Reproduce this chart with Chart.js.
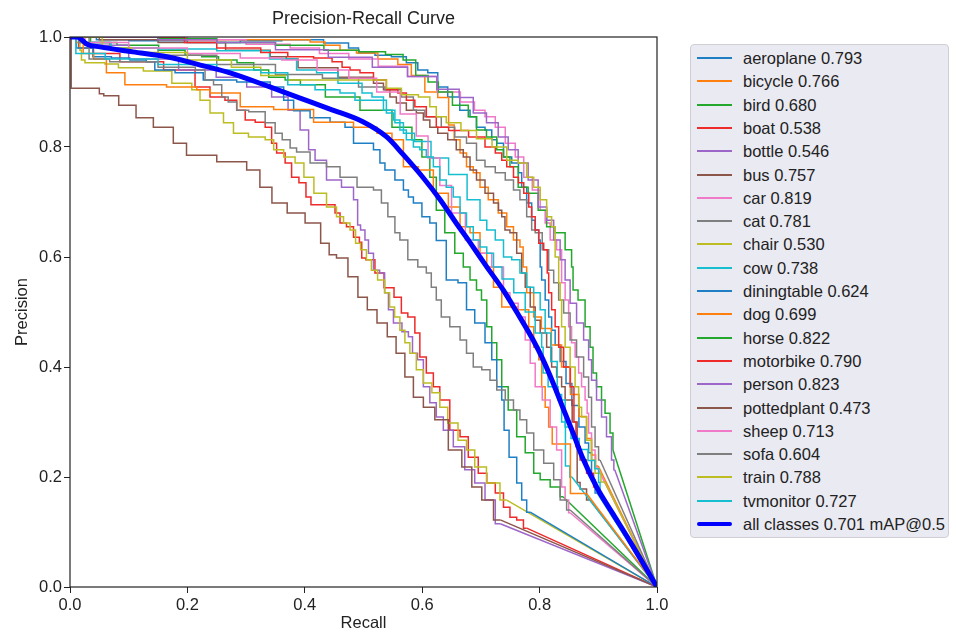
<!DOCTYPE html>
<html lang="en">
<head>
    <meta charset="UTF-8">
    <title>Precision-Recall Curve</title>
    <script src="https://cdn.jsdelivr.net/npm/chart.js@4.4.1/dist/chart.umd.min.js"></script>
    <style>
        body {
            margin: 0;
            background: #fff;
            font-family: "Liberation Sans", Arial, sans-serif;
        }
        #wrap {
            position: relative;
            width: 956px;
            height: 632px;
        }
        #legend {
            position: absolute;
            left: 690px;
            top: 44px;
            width: 259px;
            height: 494px;
            background: #eaeaf2;
            border: 1px solid #cfcfd4;
            border-radius: 4px;
            box-sizing: border-box;
        }
        .row {
            position: absolute;
            left: 0;
            height: 24px;
            line-height: 24px;
            font-size: 16.5px;
            color: #222;
            white-space: nowrap;
        }
        .swatch {
            position: absolute;
            left: 6px;
            width: 35px;
        }
        .txt {
            position: absolute;
            left: 52px;
        }
    </style>
</head>
<body>
<div id="wrap">
    <canvas id="prChart" width="956" height="632"></canvas>
    <div id="legend"></div>
</div>

<script>
// recall / precision pairs, one array per class
const aeroplane = [[0,1],[0.04,1],[0.05,0.995],[0.15,0.993],[0.25,0.99],[0.33,0.993],[0.392,0.995],[0.472,0.989],[0.477,0.98],[0.506,0.971],[0.533,0.967],[0.562,0.964],[0.584,0.953],[0.601,0.94],[0.618,0.935],[0.635,0.909],[0.652,0.891],[0.676,0.867],[0.687,0.855],[0.698,0.836],[0.716,0.831],[0.721,0.813],[0.733,0.807],[0.744,0.782],[0.761,0.771],[0.767,0.753],[0.772,0.727],[0.784,0.698],[0.789,0.667],[0.796,0.649],[0.801,0.631],[0.801,0.582],[0.806,0.558],[0.813,0.522],[0.818,0.491],[0.823,0.467],[0.83,0.44],[0.84,0.41],[0.85,0.37],[0.86,0.33],[0.874,0.291],[0.881,0.262],[0.886,0.244],[0.891,0.195],[0.898,0.171],[1,0]];
const bicycle = [[0,1],[0.1,1],[0.2,0.995],[0.3,0.995],[0.392,0.995],[0.426,0.991],[0.443,0.985],[0.477,0.976],[0.499,0.971],[0.55,0.96],[0.567,0.95],[0.596,0.93],[0.613,0.9],[0.64,0.89],[0.65,0.84],[0.659,0.813],[0.67,0.789],[0.681,0.764],[0.693,0.753],[0.704,0.727],[0.721,0.704],[0.738,0.68],[0.75,0.655],[0.761,0.631],[0.772,0.618],[0.772,0.582],[0.784,0.535],[0.796,0.491],[0.81,0.47],[0.83,0.44],[0.845,0.4],[0.86,0.35],[0.874,0.31],[0.886,0.27],[0.891,0.24],[0.9,0.22],[1,0]];
const bird = [[0,1],[0.03,1],[0.04,0.99],[0.12,0.985],[0.182,0.976],[0.21,0.967],[0.239,0.964],[0.267,0.958],[0.302,0.953],[0.324,0.94],[0.353,0.927],[0.38,0.922],[0.405,0.913],[0.465,0.891],[0.523,0.867],[0.574,0.836],[0.591,0.813],[0.608,0.782],[0.618,0.745],[0.63,0.685],[0.647,0.644],[0.664,0.607],[0.676,0.582],[0.687,0.558],[0.698,0.54],[0.704,0.522],[0.716,0.473],[0.721,0.444],[0.733,0.413],[0.738,0.364],[0.755,0.322],[0.767,0.273],[0.784,0.244],[0.796,0.207],[0.806,0.195],[0.83,0.182],[0.84,0.164],[1,0]];
const boat = [[0,1],[0.03,0.98],[0.05,0.97],[0.12,0.955],[0.199,0.94],[0.227,0.909],[0.25,0.891],[0.278,0.885],[0.29,0.867],[0.307,0.849],[0.324,0.845],[0.341,0.836],[0.346,0.807],[0.358,0.789],[0.375,0.771],[0.38,0.745],[0.4,0.735],[0.404,0.709],[0.417,0.695],[0.448,0.695],[0.455,0.68],[0.465,0.662],[0.477,0.655],[0.489,0.636],[0.497,0.627],[0.497,0.598],[0.511,0.595],[0.528,0.571],[0.542,0.544],[0.562,0.527],[0.567,0.498],[0.584,0.491],[0.591,0.462],[0.601,0.418],[0.613,0.389],[0.625,0.364],[0.635,0.34],[0.659,0.285],[0.67,0.273],[0.687,0.236],[0.704,0.207],[0.716,0.189],[0.733,0.171],[0.744,0.145],[0.755,0.127],[0.767,0.122],[0.778,0.107],[1,0]];
const bottle = [[0,1],[0.05,0.985],[0.15,0.96],[0.22,0.94],[0.278,0.927],[0.324,0.909],[0.363,0.891],[0.38,0.867],[0.404,0.831],[0.409,0.795],[0.426,0.776],[0.448,0.74],[0.477,0.727],[0.489,0.704],[0.491,0.658],[0.499,0.649],[0.506,0.631],[0.511,0.607],[0.523,0.576],[0.532,0.571],[0.54,0.535],[0.545,0.504],[0.557,0.48],[0.574,0.464],[0.579,0.455],[0.588,0.425],[0.596,0.413],[0.608,0.364],[0.618,0.335],[0.63,0.309],[0.642,0.285],[0.664,0.255],[0.681,0.213],[0.698,0.189],[0.716,0.158],[0.733,0.115],[1,0]];
const bus = [[0,1],[0.1,0.995],[0.2,0.99],[0.33,0.976],[0.352,0.964],[0.385,0.96],[0.392,0.944],[0.448,0.944],[0.465,0.927],[0.506,0.927],[0.528,0.916],[0.54,0.904],[0.55,0.891],[0.562,0.88],[0.584,0.867],[0.596,0.862],[0.608,0.849],[0.618,0.836],[0.635,0.825],[0.652,0.813],[0.664,0.795],[0.676,0.782],[0.687,0.758],[0.698,0.74],[0.716,0.716],[0.727,0.698],[0.733,0.685],[0.738,0.673],[0.744,0.649],[0.755,0.644],[0.767,0.607],[0.772,0.571],[0.779,0.545],[0.789,0.509],[0.796,0.485],[0.806,0.462],[0.818,0.436],[0.823,0.4],[0.835,0.382],[0.84,0.364],[0.847,0.34],[0.864,0.3],[0.864,0.19],[0.874,0.178],[0.886,0.158],[1,0]];
const car = [[0,1],[0.15,1],[0.25,0.995],[0.35,0.987],[0.4,0.98],[0.45,0.97],[0.5,0.96],[0.55,0.947],[0.6,0.928],[0.65,0.9],[0.68,0.882],[0.698,0.867],[0.716,0.855],[0.733,0.836],[0.75,0.807],[0.767,0.782],[0.779,0.745],[0.796,0.722],[0.806,0.685],[0.813,0.662],[0.823,0.631],[0.835,0.613],[0.84,0.553],[0.847,0.522],[0.852,0.473],[0.857,0.444],[0.864,0.418],[0.869,0.389],[0.874,0.364],[0.881,0.34],[0.881,0.316],[0.886,0.28],[0.891,0.249],[0.898,0.218],[1,0]];
const cat = [[0,1],[0.03,1],[0.035,0.99],[0.1,0.98],[0.2,0.967],[0.3,0.95],[0.4,0.932],[0.46,0.925],[0.523,0.909],[0.55,0.904],[0.579,0.891],[0.591,0.867],[0.618,0.855],[0.647,0.836],[0.664,0.818],[0.687,0.807],[0.698,0.776],[0.716,0.764],[0.733,0.753],[0.75,0.74],[0.761,0.722],[0.772,0.704],[0.784,0.673],[0.789,0.649],[0.796,0.644],[0.813,0.613],[0.818,0.576],[0.83,0.553],[0.835,0.522],[0.847,0.498],[0.857,0.449],[0.869,0.418],[0.881,0.382],[0.886,0.345],[0.891,0.291],[0.898,0.255],[0.903,0.231],[1,0]];
const chair = [[0,1],[0.017,1],[0.017,0.976],[0.022,0.958],[0.029,0.953],[0.056,0.953],[0.063,0.951],[0.102,0.944],[0.148,0.938],[0.199,0.916],[0.216,0.904],[0.227,0.885],[0.25,0.862],[0.273,0.844],[0.284,0.825],[0.324,0.818],[0.341,0.813],[0.353,0.795],[0.375,0.782],[0.392,0.771],[0.405,0.745],[0.426,0.716],[0.448,0.691],[0.46,0.673],[0.472,0.662],[0.482,0.649],[0.491,0.625],[0.499,0.613],[0.511,0.595],[0.516,0.576],[0.532,0.558],[0.54,0.535],[0.549,0.509],[0.557,0.491],[0.567,0.467],[0.574,0.444],[0.584,0.425],[0.596,0.395],[0.608,0.371],[0.625,0.353],[0.635,0.327],[0.652,0.298],[0.67,0.267],[0.681,0.249],[0.698,0.218],[0.721,0.189],[0.744,0.158],[1,0]];
const cow = [[0,1],[0.04,0.99],[0.1,0.98],[0.2,0.978],[0.3,0.975],[0.38,0.96],[0.392,0.94],[0.448,0.935],[0.465,0.916],[0.489,0.916],[0.506,0.898],[0.523,0.891],[0.545,0.867],[0.562,0.844],[0.574,0.825],[0.6,0.81],[0.63,0.78],[0.66,0.75],[0.693,0.704],[0.704,0.667],[0.716,0.649],[0.733,0.631],[0.744,0.6],[0.761,0.595],[0.772,0.571],[0.784,0.545],[0.796,0.535],[0.806,0.504],[0.813,0.462],[0.825,0.41],[0.835,0.35],[0.84,0.3],[0.848,0.22],[0.855,0.2],[1,0]];
const diningtable = [[0,1],[0.022,0.98],[0.056,0.964],[0.085,0.962],[0.119,0.958],[0.141,0.955],[0.148,0.94],[0.21,0.935],[0.244,0.922],[0.324,0.918],[0.358,0.909],[0.37,0.885],[0.392,0.866],[0.426,0.853],[0.46,0.845],[0.477,0.836],[0.489,0.807],[0.506,0.807],[0.528,0.795],[0.528,0.771],[0.545,0.758],[0.562,0.74],[0.574,0.722],[0.579,0.709],[0.591,0.698],[0.608,0.673],[0.618,0.662],[0.63,0.63],[0.652,0.558],[0.67,0.553],[0.681,0.504],[0.698,0.48],[0.716,0.444],[0.721,0.413],[0.733,0.364],[0.738,0.34],[0.741,0.285],[0.755,0.236],[0.767,0.189],[0.772,0.158],[0.784,0.136],[1,0]];
const dog = [[0,1],[0.02,0.99],[0.025,0.97],[0.056,0.96],[0.068,0.935],[0.119,0.913],[0.21,0.909],[0.222,0.904],[0.256,0.898],[0.324,0.873],[0.37,0.868],[0.46,0.845],[0.506,0.836],[0.54,0.825],[0.557,0.813],[0.579,0.764],[0.608,0.758],[0.63,0.716],[0.659,0.691],[0.67,0.655],[0.693,0.644],[0.704,0.607],[0.716,0.582],[0.727,0.545],[0.744,0.509],[0.779,0.504],[0.784,0.473],[0.796,0.436],[0.801,0.413],[0.806,0.364],[0.813,0.327],[0.818,0.291],[0.825,0.26],[0.88,0.17],[1,0]];
const horse = [[0,1],[0.1,1],[0.2,0.997],[0.3,0.99],[0.4,0.985],[0.465,0.976],[0.52,0.973],[0.555,0.968],[0.58,0.958],[0.598,0.93],[0.622,0.918],[0.633,0.9],[0.67,0.876],[0.687,0.855],[0.698,0.831],[0.721,0.818],[0.733,0.795],[0.744,0.782],[0.755,0.764],[0.772,0.727],[0.789,0.716],[0.806,0.685],[0.818,0.655],[0.835,0.644],[0.852,0.613],[0.857,0.582],[0.857,0.54],[0.874,0.522],[0.881,0.473],[0.891,0.436],[0.891,0.389],[0.903,0.364],[0.908,0.34],[0.915,0.316],[0.925,0.28],[0.925,0.249],[1,0]];
const motorbike = [[0,1],[0.19,1],[0.2,0.99],[0.3,0.98],[0.35,0.972],[0.392,0.964],[0.438,0.962],[0.455,0.955],[0.472,0.945],[0.482,0.94],[0.506,0.935],[0.528,0.922],[0.55,0.904],[0.567,0.898],[0.579,0.885],[0.596,0.873],[0.618,0.855],[0.63,0.836],[0.66,0.83],[0.698,0.818],[0.716,0.8],[0.733,0.789],[0.738,0.776],[0.75,0.764],[0.761,0.745],[0.767,0.735],[0.779,0.716],[0.784,0.691],[0.789,0.673],[0.796,0.649],[0.801,0.625],[0.813,0.613],[0.813,0.571],[0.818,0.535],[0.823,0.504],[0.83,0.473],[0.835,0.436],[0.847,0.4],[0.857,0.364],[0.86,0.3],[0.864,0.255],[0.874,0.231],[0.886,0.207],[0.898,0.182],[1,0]];
const person = [[0,1],[0.1,1],[0.2,0.995],[0.3,0.99],[0.4,0.977],[0.48,0.963],[0.55,0.945],[0.6,0.928],[0.65,0.905],[0.676,0.89],[0.698,0.862],[0.721,0.844],[0.738,0.818],[0.755,0.795],[0.772,0.771],[0.789,0.74],[0.806,0.691],[0.818,0.667],[0.83,0.631],[0.84,0.595],[0.847,0.558],[0.857,0.516],[0.869,0.48],[0.881,0.449],[0.886,0.413],[0.891,0.376],[0.903,0.34],[0.908,0.309],[0.92,0.273],[0.925,0.231],[0.928,0.213],[1,0]];
const pottedplant = [[0,1],[0.004,0.907],[0.045,0.907],[0.055,0.897],[0.06,0.893],[0.106,0.876],[0.119,0.853],[0.165,0.836],[0.187,0.807],[0.21,0.785],[0.29,0.773],[0.312,0.758],[0.335,0.727],[0.353,0.698],[0.387,0.68],[0.414,0.662],[0.44,0.625],[0.443,0.604],[0.465,0.598],[0.482,0.564],[0.499,0.527],[0.514,0.504],[0.532,0.48],[0.549,0.455],[0.562,0.425],[0.579,0.382],[0.591,0.345],[0.613,0.327],[0.63,0.304],[0.659,0.249],[0.676,0.218],[0.693,0.182],[0.71,0.158],[0.733,0.122],[1,0]];
const sheep = [[0,1],[0.05,0.99],[0.15,0.98],[0.25,0.97],[0.33,0.962],[0.392,0.958],[0.45,0.94],[0.5,0.925],[0.545,0.9],[0.58,0.86],[0.6,0.82],[0.62,0.78],[0.64,0.73],[0.66,0.68],[0.687,0.631],[0.704,0.607],[0.733,0.582],[0.744,0.535],[0.755,0.516],[0.772,0.491],[0.779,0.449],[0.789,0.407],[0.796,0.364],[0.813,0.34],[0.823,0.291],[0.835,0.249],[0.84,0.182],[0.847,0.158],[0.852,0.135],[1,0]];
const sofa = [[0,1],[0.03,0.99],[0.035,0.96],[0.1,0.955],[0.2,0.945],[0.227,0.94],[0.233,0.922],[0.256,0.913],[0.261,0.891],[0.278,0.882],[0.29,0.867],[0.319,0.864],[0.346,0.844],[0.353,0.825],[0.37,0.813],[0.38,0.798],[0.392,0.791],[0.426,0.771],[0.448,0.764],[0.472,0.745],[0.506,0.727],[0.528,0.722],[0.533,0.698],[0.55,0.673],[0.557,0.644],[0.567,0.631],[0.584,0.595],[0.601,0.582],[0.613,0.571],[0.618,0.545],[0.63,0.522],[0.635,0.491],[0.659,0.473],[0.67,0.449],[0.681,0.425],[0.693,0.4],[0.71,0.395],[0.721,0.376],[0.733,0.358],[0.75,0.34],[0.761,0.322],[0.772,0.304],[0.784,0.28],[0.796,0.249],[0.818,0.225],[0.83,0.195],[0.84,0.158],[0.852,0.14],[1,0]];
const train = [[0,1],[0.05,1],[0.06,0.98],[0.15,0.972],[0.25,0.958],[0.3,0.945],[0.35,0.93],[0.392,0.922],[0.528,0.922],[0.55,0.907],[0.579,0.895],[0.608,0.891],[0.618,0.873],[0.63,0.855],[0.652,0.844],[0.68,0.83],[0.705,0.815],[0.733,0.8],[0.755,0.776],[0.772,0.771],[0.784,0.745],[0.796,0.727],[0.806,0.704],[0.818,0.673],[0.823,0.655],[0.83,0.6],[0.835,0.553],[0.835,0.522],[0.84,0.473],[0.847,0.436],[0.857,0.4],[0.864,0.364],[0.869,0.327],[0.874,0.309],[0.886,0.267],[0.891,0.231],[0.898,0.207],[0.911,0.191],[1,0]];
const tvmonitor = [[0,1],[0.02,0.97],[0.1,0.96],[0.2,0.95],[0.3,0.94],[0.35,0.935],[0.392,0.913],[0.443,0.904],[0.477,0.898],[0.494,0.885],[0.533,0.885],[0.545,0.862],[0.557,0.849],[0.567,0.831],[0.579,0.813],[0.591,0.8],[0.601,0.795],[0.613,0.782],[0.625,0.764],[0.635,0.74],[0.647,0.727],[0.659,0.709],[0.67,0.68],[0.681,0.655],[0.693,0.631],[0.704,0.618],[0.716,0.607],[0.727,0.582],[0.745,0.56],[0.767,0.535],[0.784,0.5],[0.801,0.462],[0.806,0.436],[0.806,0.389],[0.823,0.364],[0.84,0.34],[0.847,0.291],[0.86,0.27],[0.875,0.25],[0.89,0.23],[0.898,0.215],[0.903,0.19],[0.903,0.164],[1,0]];
const allClasses = [[0,1],[0.012,1],[0.029,0.987],[0.051,0.982],[0.107,0.973],[0.165,0.964],[0.222,0.949],[0.278,0.933],[0.336,0.911],[0.392,0.889],[0.443,0.869],[0.499,0.846],[0.54,0.818],[0.567,0.787],[0.601,0.745],[0.63,0.705],[0.659,0.66],[0.681,0.627],[0.71,0.582],[0.738,0.54],[0.761,0.5],[0.789,0.449],[0.806,0.413],[0.823,0.371],[0.84,0.325],[0.857,0.28],[0.874,0.233],[0.898,0.18],[0.925,0.133],[0.954,0.083],[1,0]];

const classNames = ['aeroplane', 'bicycle', 'bird', 'boat', 'bottle', 'bus', 'car', 'cat', 'chair', 'cow',
    'diningtable', 'dog', 'horse', 'motorbike', 'person', 'pottedplant', 'sheep', 'sofa', 'train', 'tvmonitor'];
const apValues = [0.793, 0.766, 0.680, 0.538, 0.546, 0.757, 0.819, 0.781, 0.530, 0.738,
    0.624, 0.699, 0.822, 0.790, 0.823, 0.473, 0.713, 0.604, 0.788, 0.727];
const curves = [aeroplane, bicycle, bird, boat, bottle, bus, car, cat, chair, cow,
    diningtable, dog, horse, motorbike, person, pottedplant, sheep, sofa, train, tvmonitor];
const mAP = 0.701;
const tickValues = [0, 0.2, 0.4, 0.6, 0.8, 1.0];

// matplotlib tab10 cycle
const palette = ['#1f7fc4', '#ff7f0e', '#23a82d', '#ee2a2a', '#9d66c9', '#8c564b', '#f07ac8', '#7f7f7f', '#bcbd22', '#17becf'];

const toXY = pts => pts.map(p => ({ x: p[0], y: p[1] }));

const legendItems = [];
const datasets = [];
curves.forEach((pts, i) => {
    const color = palette[i % 10];
    legendItems.push({ label: classNames[i] + ' ' + apValues[i].toFixed(3), color, width: 2 });
    // staircase part of the curve
    datasets.push({
        data: toXY(pts.slice(0, -1)),
        borderColor: color,
        borderWidth: 1.5,
        stepped: 'middle',
        order: 60 - 2 * i
    });
    // straight run from the last recall point down to (1, 0)
    datasets.push({
        data: toXY(pts.slice(-2)),
        borderColor: color,
        borderWidth: 1.5,
        order: 59 - 2 * i
    });
});
legendItems.push({ label: 'all classes ' + mAP.toFixed(3) + ' mAP@0.5', color: '#0000ff', width: 4 });
datasets.push({
    data: toXY(allClasses),
    borderColor: '#0000ff',
    borderWidth: 5,
    cubicInterpolationMode: 'monotone',
    order: 0
});

// legend as html, rows on whole pixels so the thin swatches stay crisp
const legend = document.getElementById('legend');
legendItems.forEach((item, i) => {
    const row = document.createElement('div');
    row.className = 'row';
    row.style.top = Math.round(1 + i * 23.3) + 'px';
    const sw = document.createElement('div');
    sw.className = 'swatch';
    sw.style.top = (12 - item.width / 2) + 'px';
    sw.style.height = item.width + 'px';
    sw.style.background = item.color;
    if (item.width > 2) sw.style.borderRadius = '2px';
    const txt = document.createElement('span');
    txt.className = 'txt';
    txt.textContent = item.label;
    row.appendChild(sw);
    row.appendChild(txt);
    legend.appendChild(row);
});

const frame = {
    id: 'frame',
    afterDatasetsDraw(chart) {
        const { ctx, chartArea: a } = chart;
        ctx.save();
        ctx.strokeStyle = '#222';
        ctx.lineWidth = 1.2;
        ctx.strokeRect(a.left, a.top, a.right - a.left, a.bottom - a.top);
        ctx.restore();
    }
};

const tickFont = { family: '"Liberation Sans", Arial, sans-serif', size: 16.5 };

new Chart(document.getElementById('prChart'), {
    type: 'scatter',
    data: { datasets },
    options: {
        responsive: false,
        animation: false,
        showLine: true,
        elements: {
            point: { radius: 0, hoverRadius: 0 },
            line: { tension: 0, fill: false }
        },
        layout: { padding: { left: 0, right: 299, top: 0, bottom: 0 } },
        plugins: {
            legend: { display: false },
            tooltip: { enabled: false },
            title: {
                display: true,
                text: 'Precision-Recall Curve',
                fullSize: false,
                color: '#222',
                font: { family: tickFont.family, size: 18, weight: 'normal', lineHeight: 1 },
                padding: { top: 10, bottom: 9 }
            }
        },
        scales: {
            x: {
                type: 'linear',
                min: 0,
                max: 1,
                afterBuildTicks: s => { s.ticks = tickValues.map(v => ({ value: v })); },
                afterFit: s => { s.height = 45; },
                border: { display: false },
                grid: { drawOnChartArea: false, drawTicks: true, tickLength: 6, color: '#222' },
                ticks: { color: '#222', font: tickFont, padding: 3, maxRotation: 0, callback: v => v.toFixed(1) },
                title: { display: true, text: 'Recall', color: '#222', font: { ...tickFont, lineHeight: 1 }, padding: 0 }
            },
            y: {
                type: 'linear',
                min: 0,
                max: 1,
                afterBuildTicks: s => { s.ticks = tickValues.map(v => ({ value: v })); },
                afterFit: s => { s.width = 70; },
                border: { display: false },
                grid: { drawOnChartArea: false, drawTicks: true, tickLength: 6, color: '#222' },
                ticks: { color: '#222', font: tickFont, padding: 2, callback: v => v.toFixed(1) },
                title: { display: true, text: 'Precision', color: '#222', font: { ...tickFont, lineHeight: 1 }, padding: { top: 14, bottom: 0 } }
            }
        }
    },
    plugins: [frame]
});
</script>
</body>
</html>
